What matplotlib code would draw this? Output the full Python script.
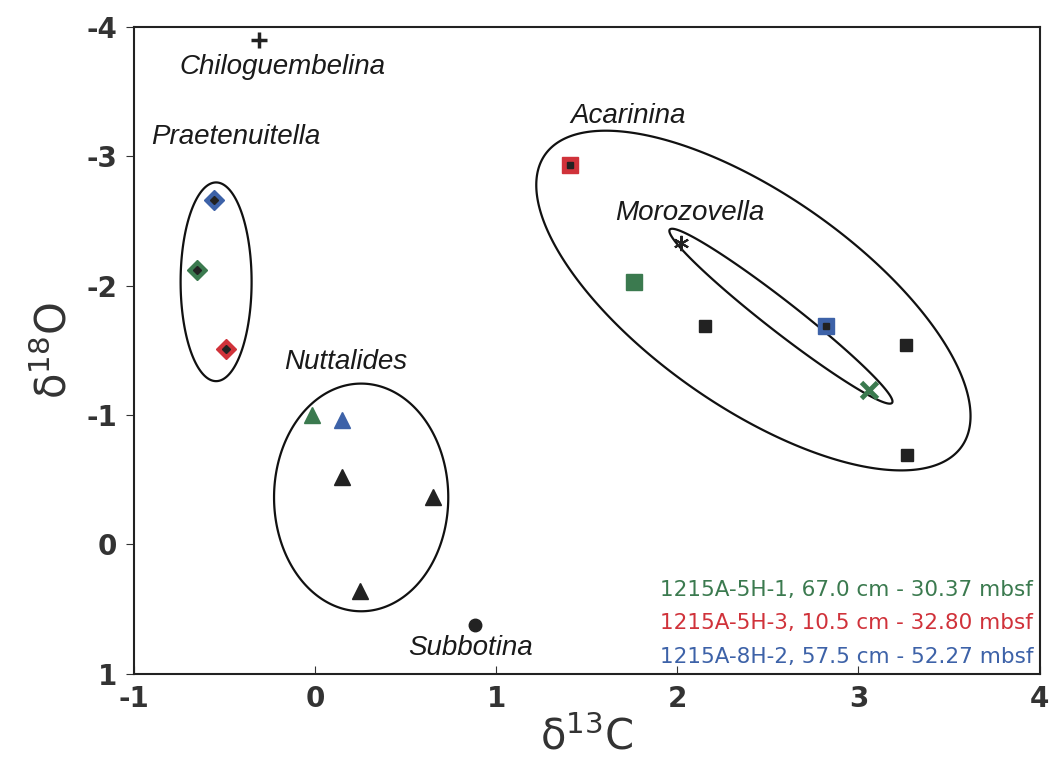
import numpy as np
import matplotlib
matplotlib.use("Agg")
from matplotlib import pyplot as plt

plt.rcParams["axes.unicode_minus"] = False

# sample colours
green = "#3b7a4f"
red = "#d0323a"
blue = "#3d62a8"
black = "#222222"

# Praetenuitella (diamonds): blue, green, red
prae_x = [-0.56, -0.65, -0.49]
prae_y = [-2.66, -2.12, -1.51]
prae_c = [blue, green, red]

# Nuttalides (triangles)
nutt_x = [-0.02, 0.15]
nutt_y = [-1.00, -0.96]
nutt_c = [green, blue]
nutt_blk_x = [0.15, 0.65, 0.25]
nutt_blk_y = [-0.52, -0.37, 0.36]

# Subbotina, Chiloguembelina
subb_x, subb_y = [0.88], [0.62]
chil_x, chil_y = [-0.31], [-3.90]

# Acarinina (squares)
acar_red = (1.41, -2.93)
acar_green = (1.76, -2.03)
acar_blk_x = [2.15, 3.26, 3.27]
acar_blk_y = [-1.69, -1.54, -0.69]

# Morozovella
moro_star = (2.02, -2.33)
moro_blue = (2.82, -1.69)
moro_green = (3.06, -1.19)

# group outlines: centre x, centre y, half-width, half-height, correlation
groups = [
    (-0.547, -2.03, 0.196, 0.768, 0.0),   # Praetenuitella
    (0.254, -0.363, 0.481, 0.880, 0.0),   # Nuttalides
    (2.42, -1.885, 1.199, 1.313, 0.68),   # Acarinina
    (2.572, -1.764, 0.616, 0.676, 0.975), # Morozovella
]

labels = ["Chiloguembelina", "Praetenuitella", "Nuttalides", "Subbotina",
          "Acarinina", "Morozovella"]
label_x = [-0.18, -0.44, 0.17, 0.86, 1.73, 2.07]
label_y = [-3.69, -3.15, -1.41, 0.80, -3.31, -2.56]

legend_txt = ["1215A-5H-1, 67.0 cm - 30.37 mbsf",
              "1215A-5H-3, 10.5 cm - 32.80 mbsf",
              "1215A-8H-2, 57.5 cm - 52.27 mbsf"]
legend_col = [green, red, blue]

fig = plt.figure(figsize=(10.64, 7.70), dpi=100)
ax = fig.add_axes([0.126, 0.125, 0.851, 0.840])

# outlines round each genus
t = np.linspace(0, 2 * np.pi, 401)[:-1]
for cx, cy, hx, hy, r in groups:
    M = np.array([[hx**2, r*hx*hy], [r*hx*hy, hy**2]])
    L = np.linalg.cholesky(M)
    pts = L @ np.vstack([np.cos(t), np.sin(t)])
    ax.fill(cx + pts[0], cy + pts[1], fill=False, ec="#111111", lw=1.6,
            zorder=1)

# Praetenuitella
for x, y, c in zip(prae_x, prae_y, prae_c):
    ax.plot(x, y, marker="D", ms=10, color=c, mec=c, zorder=3)
    ax.plot(x, y, marker="D", ms=4, color=black, zorder=4)

# Nuttalides
for x, y, c in zip(nutt_x, nutt_y, nutt_c):
    ax.plot(x, y, marker="^", ms=12, color=c, zorder=3)
ax.plot(nutt_blk_x, nutt_blk_y, "^", ms=11, color=black, ls="none", zorder=3)

ax.plot(subb_x, subb_y, "o", ms=9, color=black, zorder=3)
ax.plot(chil_x, chil_y, "+", ms=11, mew=2.5, color=black, zorder=3)

# Acarinina
ax.plot(*acar_red, marker="s", ms=11, color=red, zorder=3)
ax.plot(*acar_red, marker="s", ms=5, color=black, zorder=4)
ax.plot(*acar_green, marker="s", ms=12, color=green, zorder=3)
ax.plot(acar_blk_x, acar_blk_y, "s", ms=9, color=black, ls="none", zorder=3)

# Morozovella
ax.plot(*moro_star, marker=(6, 2, 0), ms=11, mew=1.5, color=black, zorder=3)
ax.plot(*moro_blue, marker="s", ms=11, color=blue, zorder=3)
ax.plot(*moro_blue, marker="s", ms=5, color=black, zorder=4)
ax.plot(*moro_green, marker="x", ms=12, mew=3.5, color=green, zorder=3)

for txt, x, y in zip(labels, label_x, label_y):
    ax.text(x, y, txt, ha="center", va="center", fontsize=20, style="italic",
            family="Liberation Sans", color="#1a1a1a")

for i, (txt, c) in enumerate(zip(legend_txt, legend_col)):
    ax.text(0.993, 0.130 - i * 0.052, txt, transform=ax.transAxes, ha="right",
            va="center", fontsize=15.5, color=c)

ax.set_xlim(-1, 4)
ax.set_ylim(1, -4)
ax.set_xticks([-1, 0, 1, 2, 3, 4])
ax.set_yticks([1, 0, -1, -2, -3, -4])
ax.tick_params(axis="x", direction="in", length=6, labelsize=20, pad=8,
               colors="#333333")
ax.tick_params(axis="y", direction="out", length=6, labelsize=20, pad=6,
               colors="#333333")
for lab in ax.get_xticklabels() + ax.get_yticklabels():
    lab.set_fontweight("bold")
for s in ax.spines.values():
    s.set_linewidth(1.5)
    s.set_color("#222222")

ax.set_xlabel(r"δ$^{13}$C", fontsize=30, color="#333333", labelpad=2)
ax.set_ylabel(r"δ$^{18}$O", fontsize=30, color="#333333", labelpad=8)

fig.savefig("out.png", dpi=100)
